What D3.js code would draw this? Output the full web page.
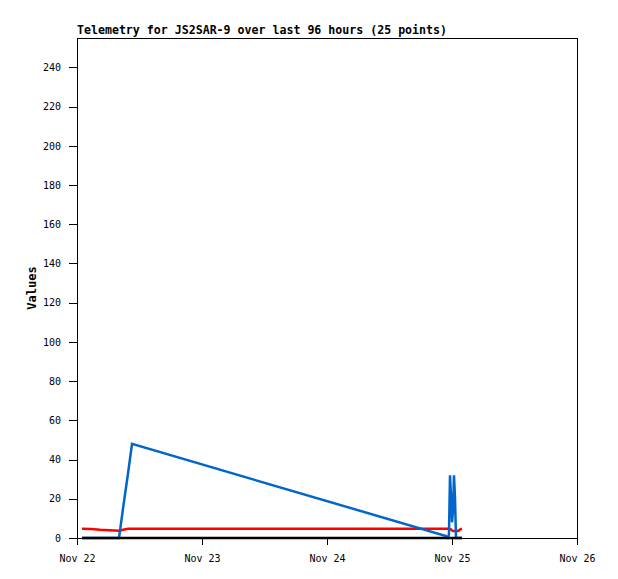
<!DOCTYPE html>
<html>
<head>
<meta charset="utf-8">
<script src="https://cdn.jsdelivr.net/npm/d3@7"></script>
<style>
  html, body { margin: 0; padding: 0; background: #fff; }
  svg { display: block; }
</style>
</head>
<body>
<svg id="chart" width="618" height="579"></svg>
<script>
const title = "Telemetry for JS2SAR-9 over last 96 hours (25 points)";
const yLabel = "Values";
const times = [
  "2023-11-22T00:58Z", "2023-11-22T02:41Z", "2023-11-22T04:25Z", "2023-11-22T06:20Z",
  "2023-11-22T08:04Z", "2023-11-22T08:50Z", "2023-11-22T09:48Z", "2023-11-22T10:34Z",
  "2023-11-24T22:51Z", "2023-11-24T23:02Z", "2023-11-24T23:14Z", "2023-11-24T23:25Z",
  "2023-11-24T23:37Z", "2023-11-24T23:48Z", "2023-11-25T00:00Z", "2023-11-25T00:12Z",
  "2023-11-25T00:23Z", "2023-11-25T00:35Z", "2023-11-25T00:46Z", "2023-11-25T00:58Z",
  "2023-11-25T01:09Z", "2023-11-25T01:21Z", "2023-11-25T01:32Z", "2023-11-25T01:44Z",
  "2023-11-25T01:55Z"
];
const redValues = [4.7, 4.6, 4.2, 4.0, 3.7, 4.2, 4.7, 4.7,
                   4.7, 4.7, 4.7, 4.7, 4.6, 4.4, 3.8, 3.6,
                   3.6, 3.6, 3.6, 3.6, 3.6, 3.9, 4.3, 4.6, 4.8];
const blueValues = [0, 0, 0, 0, 0, 15, 33, 48,
                    1, 0, 0, 2, 32, 22, 8, 14,
                    32, 20, 0, 0, 0, 0, 0, 0, 0];
const blackValues = [0, 0, 0, 0, 0, 0, 0, 0,
                     0, 0, 0, 0, 0, 0, 0, 0,
                     0, 0, 0, 0, 0, 0, 0, 0, 0];
const xDomain = ["2023-11-22T00:00Z", "2023-11-26T00:00Z"];
const yDomain = [0, 255];
const yTicks = [0, 20, 40, 60, 80, 100, 120, 140, 160, 180, 200, 220, 240];

const svg = d3.select("#chart");
const m = {left: 77, top: 38, width: 500, height: 500};
const x = d3.scaleUtc().domain(xDomain.map(d => new Date(d))).range([m.left, m.left + m.width]);
const y = d3.scaleLinear().domain(yDomain).range([m.top + m.height, m.top]);
const dates = times.map(d => new Date(d));

const mono = "'DejaVu Sans Mono', 'Liberation Mono', monospace";

// frame
svg.append("rect")
  .attr("x", m.left + 0.5).attr("y", m.top + 0.5)
  .attr("width", m.width).attr("height", m.height)
  .attr("fill", "none").attr("stroke", "#000").attr("stroke-width", 1)
  .attr("shape-rendering", "crispEdges");

// axes
const xAxis = svg.append("g")
  .attr("transform", `translate(0,${m.top + m.height})`)
  .call(d3.axisBottom(x).ticks(d3.utcDay.every(1)).tickSize(7).tickPadding(10)
    .tickFormat(d3.utcFormat("%b %d")));
xAxis.select(".domain").remove();
xAxis.selectAll("line").attr("shape-rendering", "crispEdges");
xAxis.selectAll("text").attr("font-family", mono).attr("font-size", 10).attr("fill", "#000");

const yAxis = svg.append("g")
  .attr("transform", `translate(${m.left},0)`)
  .call(d3.axisLeft(y).tickValues(yTicks).tickSize(8).tickPadding(8));
yAxis.select(".domain").remove();
yAxis.selectAll("line").attr("shape-rendering", "crispEdges");
yAxis.selectAll("text").attr("font-family", mono).attr("font-size", 10).attr("fill", "#000");

// title
svg.append("text")
  .attr("x", m.left).attr("y", 34)
  .attr("font-family", mono).attr("font-size", 11.6).attr("font-weight", "bold")
  .attr("textLength", 370).attr("lengthAdjust", "spacing")
  .text(title);

// y label
svg.append("text")
  .attr("transform", `translate(36,${m.top + m.height / 2}) rotate(-90)`)
  .attr("text-anchor", "middle")
  .attr("font-family", mono).attr("font-size", 12).attr("font-weight", "bold")
  .text(yLabel);

// lines
const line = vals => d3.line().x((d, i) => x(dates[i])).y(d => y(d))(vals);
svg.append("path").attr("d", line(redValues))
  .attr("fill", "none").attr("stroke", "#ff0000").attr("stroke-width", 2.5);
svg.append("path").attr("d", line(blueValues))
  .attr("fill", "none").attr("stroke", "#0066cc").attr("stroke-width", 2.5);
svg.append("path").attr("d", line(blackValues))
  .attr("fill", "none").attr("stroke", "#000").attr("stroke-width", 2.5);
</script>
</body>
</html>
